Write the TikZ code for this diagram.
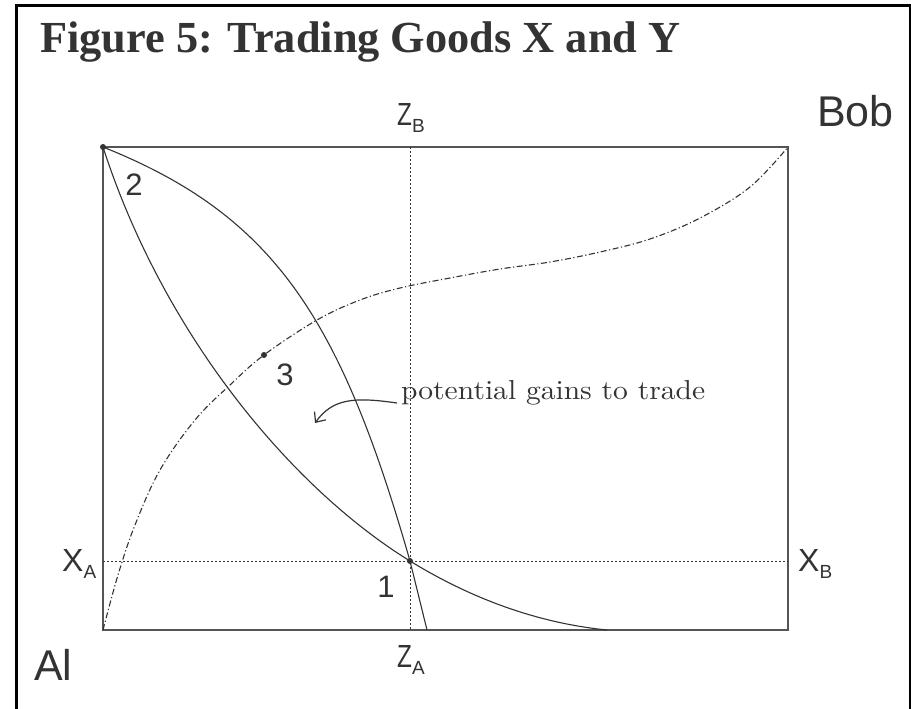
\documentclass[tikz,border=0pt]{standalone}
\usepackage{fontspec}
\usepackage{graphicx}
\usetikzlibrary{arrows.meta}
\newfontfamily\labfont{Liberation Sans}
\newfontfamily\titlefont{Liberation Serif}
\definecolor{ink}{HTML}{333333}
\definecolor{boxc}{HTML}{555555}
\newcommand{\sub}[1]{\raisebox{-7pt}{\fontsize{19}{19}\selectfont #1}}
\newcommand{\narrowZ}{\scalebox{0.76}[1]{Z}}
\begin{document}
\begin{tikzpicture}[x=1pt,y=-1pt,
  lab/.style={font=\labfont\fontsize{32}{32}\selectfont, text=ink, inner sep=0, anchor=base west},
  big/.style={font=\labfont\fontsize{43}{43}\selectfont, text=ink, inner sep=0, anchor=base west},
  num/.style={font=\labfont\fontsize{31}{31}\selectfont, text=ink, inner sep=0, anchor=base},
  curve/.style={draw=ink, line width=1.1pt},
  guide/.style={draw=ink, line width=1pt, dash pattern=on 2pt off 2pt},
  dashdot/.style={draw=ink, line width=1.1pt, dash pattern=on 6pt off 2.5pt on 1.2pt off 2.5pt},
  dot/.style={circle, fill=ink, inner sep=0, minimum size=6pt}]
\useasboundingbox (0,0) rectangle (911,709);
\draw[line width=3pt] (16,709) -- (16,6) -- (910,6) -- (910,709);
\node[anchor=base west, inner sep=0, text=ink] (title) at (40,53)
  {\resizebox{640pt}{!}{\titlefont\bfseries Figure 5: Trading Goods X and Y}};
% box
\coordinate (tl) at (103,147);
\coordinate (br) at (788,630);
\draw[draw=boxc, line width=1.5pt] (tl) rectangle (br);
% guides
\coordinate (zt) at (410,147);
\coordinate (zb) at (410,630);
\coordinate (xl) at (103,561);
\coordinate (xr) at (788,561);
\draw[guide] (zt) -- (zb);
\draw[guide] (xl) -- (xr);
% dots
\node[dot] (p2) at (103,147) {};
\node[dot] (p3) at (264,355) {};
\node[dot] (p1) at (410,561) {};
\coordinate (aend) at (607,630);
\coordinate (bend) at (427,630);
% curve A (convex)
\draw[curve] (p2.center) .. controls (163,333) and (290,487) .. (p1.center)
  .. controls (480,604) and (547,624) .. (aend);
% curve B (concave)
\draw[curve] (p2.center) .. controls (273,215) and (340,316) .. (p1.center) -- (bend);
% dash-dot curve
\draw[dashdot] plot[smooth, tension=0.6] coordinates {(103,630) (118,575) (135,525) (160,470) (195,420) (230,385) (264,355) (317,320) (360,300) (400,288) (450,278) (500,269) (550,262) (600,252) (650,239) (700,218) (750,187) (788,147)};
% numbers
\node[num] (n2) at (134,195) {2};
\node[num] (n3) at (285,385) {3};
\node[num] (n1) at (386,597) {1};
% axis labels
\node[lab] (ZB) at (397,125) {\narrowZ\sub{B}};
\node[lab] (ZA) at (397,667) {\narrowZ\sub{A}};
\node[lab] (XA) at (62,571) {X\sub{A}};
\node[lab] (XB) at (798,571) {X\sub{B}};
\node[big] (bob) at (817,126) {Bob};
\node[big] (al) at (34,680) {Al};
% gains text and arrow
\node[anchor=base west, inner sep=0, text=ink] (gains) at (401,399)
  {\resizebox{304pt}{19pt}{potential gains to trade}};
\coordinate (area) at (315,423);
\draw[ink, line width=1.2pt, -{Straight Barb[length=8pt,width=14pt]}] ([xshift=-4pt,yshift=-4pt]gains.base west) .. controls (355,397) and (333,398) .. (area);
\end{tikzpicture}
\end{document}
